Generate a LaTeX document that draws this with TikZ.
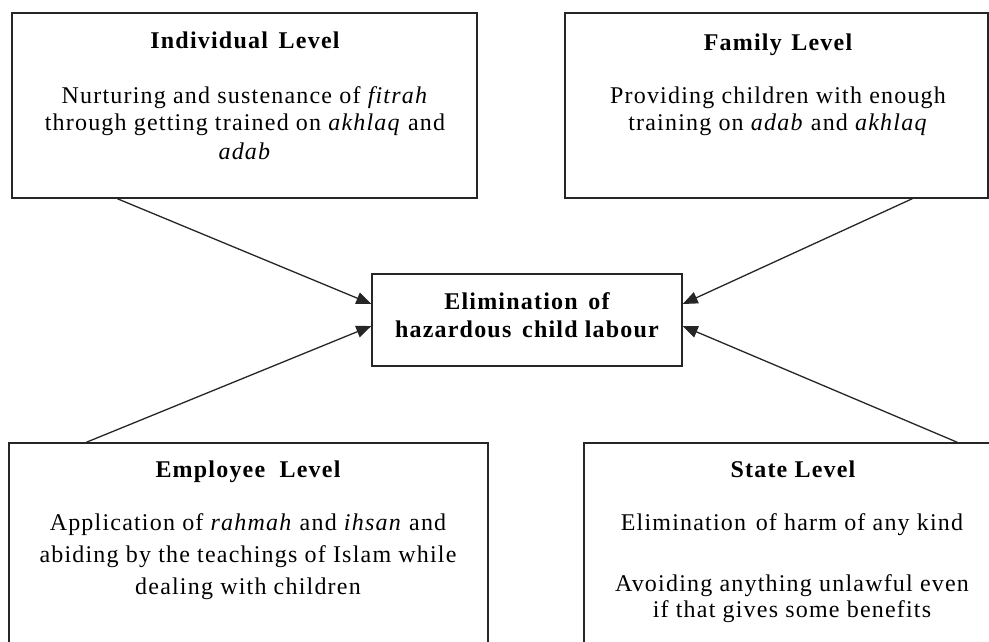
\documentclass[tikz,border=0pt]{standalone}
\usepackage{fontspec}
\setmainfont{Liberation Serif}[LetterSpace=5]
\usetikzlibrary{arrows.meta,calc}
\begin{document}
\begin{tikzpicture}[x=1pt,y=-1pt,
  box/.style={draw=black!85, line width=1.4pt, rectangle, inner sep=0pt},
  conn/.style={draw=black!85, line width=1.3pt, -{Triangle[length=15pt,width=12pt]}},
  head/.style={anchor=base, inner sep=0pt, font=\fontsize{24}{28}\selectfont\bfseries},
  body/.style={anchor=base, inner sep=0pt, font=\fontsize{24}{28}\selectfont}]
\useasboundingbox (0,0) rectangle (989,642);
\clip (0,0) rectangle (989,642);
\fill[white] (0,0) rectangle (989,642);
% boxes
\node[box, minimum width=465pt, minimum height=185pt] (ind) at (244.5,105.5) {};
\node[box, minimum width=423pt, minimum height=185pt] (fam) at (776.5,105.5) {};
\node[box, minimum width=310pt, minimum height=92pt] (ctr) at (527,320) {};
\node[box, minimum width=479pt, minimum height=217pt] (emp) at (248.5,551.5) {};
\node[box, minimum width=416pt, minimum height=217pt] (sta) at (792,551.5) {};
% texts
\node[head] (indh) at (245,49) {Individual\hspace{0.45em}Level};
\node[body] (ind1) at (245,103) {Nurturing and sustenance of \textit{fitrah}};
\node[body] (ind2) at (245,131) {through getting trained on \textit{akhlaq} and};
\node[body] (ind3) at (245,159) {\textit{adab}};
\node[head] (famh) at (778,51) {Family\hspace{0.4em}Level};
\node[body] (fam1) at (778,103) {Providing children with enough};
\node[body] (fam2) at (778,131) {training on \textit{adab} and \textit{akhlaq}};
\node[head] (ctr1) at (527,309) {Elimination\hspace{0.45em}of};
\node[head] (ctr2) at (527,337) {hazardous\hspace{0.45em}child labour};
\node[head] (emph) at (248,477) {Employee\hspace{0.6em}Level};
\node[body] (emp1) at (248,530) {Application of \textit{rahmah} and \textit{ihsan} and};
\node[body] (emp2) at (248,562) {abiding by the teachings of Islam while};
\node[body] (emp3) at (248,594) {dealing with children};
\node[head] (stah) at (793,477) {State Level};
\node[body] (sta1) at (792,530) {Elimination\hspace{0.4em}of harm of any kind};
\node[body] (sta2) at (792,591) {Avoiding anything unlawful even};
\node[body] (sta3) at (792,617) {if that gives some benefits};
% connectors
\draw[conn] ($(ind.south west)+(106,0)$) -- ($(ctr.west)+(0,-16)$);
\draw[conn] ($(fam.south west)+(348,0)$) -- ($(ctr.east)+(0,-16)$);
\draw[conn] ($(emp.north west)+(78,0)$) -- ($(ctr.west)+(0,6)$);
\draw[conn] ($(sta.north west)+(374,0)$) -- ($(ctr.east)+(0,6)$);
\end{tikzpicture}
\end{document}
